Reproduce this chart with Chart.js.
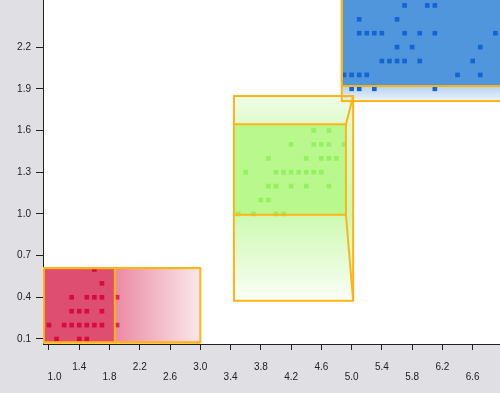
<!DOCTYPE html>
<html><head><meta charset="utf-8">
<script src="https://cdn.jsdelivr.net/npm/chart.js@4/dist/chart.umd.min.js"></script>
<style>html,body{margin:0;padding:0;background:#e0dfe4;}canvas{display:block}</style>
</head><body>
<canvas id="c" width="500" height="393" style="width:500px;height:393px"></canvas>
<script>
// ---- tick labels ----
const xTickValues = [1.0, 1.4, 1.8, 2.2, 2.6, 3.0, 3.4, 3.8, 4.2, 4.6, 5.0, 5.4, 5.8, 6.2, 6.6];
const yTickValues = [0.1, 0.4, 0.7, 1.0, 1.3, 1.6, 1.9, 2.2];

// ---- series values (petal length, petal width) ----
const setosaLength = [1.6, 1.7, 1.3, 1.5, 1.6, 1.7, 1.9, 1.3, 1.4, 1.5, 1.7, 1.0, 1.2, 1.3, 1.4, 1.5, 1.6, 1.7, 1.9, 1.1, 1.4, 1.5];
const setosaWidth  = [0.6, 0.5, 0.4, 0.4, 0.4, 0.4, 0.4, 0.3, 0.3, 0.3, 0.3, 0.2, 0.2, 0.2, 0.2, 0.2, 0.2, 0.2, 0.2, 0.1, 0.1, 0.1];

const versicolorLength = [4.5, 4.7, 4.2, 4.5, 4.6, 4.7, 4.9, 3.9, 4.4, 4.6, 4.7, 4.8, 3.6, 4.0, 4.1, 4.2, 4.3, 4.4, 4.5, 4.6, 3.9, 4.0, 4.2, 4.4, 4.7, 3.8, 3.9, 3.5, 3.7, 4.0, 4.1];
const versicolorWidth  = [1.6, 1.6, 1.5, 1.5, 1.5, 1.5, 1.5, 1.4, 1.4, 1.4, 1.4, 1.4, 1.3, 1.3, 1.3, 1.3, 1.3, 1.3, 1.3, 1.3, 1.2, 1.2, 1.2, 1.2, 1.2, 1.1, 1.1, 1.0, 1.0, 1.0, 1.0];

const virginicaLength = [5.7, 6.0, 6.1, 5.1, 5.6, 5.1, 5.2, 5.3, 5.4, 5.7, 5.9, 6.1, 6.9, 5.6, 5.8, 6.7, 5.4, 5.5, 5.6, 5.7, 5.9, 6.6, 4.9, 5.0, 5.1, 5.2, 6.4, 6.7, 5.0, 5.1, 5.3, 6.1];
const virginicaWidth  = [2.5, 2.5, 2.5, 2.4, 2.4, 2.3, 2.3, 2.3, 2.3, 2.3, 2.3, 2.3, 2.3, 2.2, 2.2, 2.2, 2.1, 2.1, 2.1, 2.1, 2.1, 2.1, 2.0, 2.0, 2.0, 2.0, 2.0, 2.0, 1.9, 1.9, 1.9, 1.9];

// ---- box extents (data units): front face and back face ----
const boxFrontX0 = [0.93, 3.445, 4.87];
const boxFrontX1 = [1.87, 4.925, 7.3];
const boxFrontY0 = [0.075, 0.994, 1.92];
const boxFrontY1 = [0.61, 1.645, 2.8];
const boxBackX0  = [0.93, 3.445, 4.87];
const boxBackX1  = [3.0, 5.02, 7.3];
const boxBackY0  = [0.075, 0.375, 1.812];
const boxBackY1  = [0.61, 1.848, 2.8];

// ---- styles ----
const boxStyles = [
  { front: 'rgb(221,78,112)', base: '220,60,100', dir: 'x', alphas: [0.6, 0.6, 0.6, 0.12], overlay: true },
  { front: 'rgb(185,248,140)', base: '165,244,115', dir: 'y', alphas: [0.18, 0.35, 0.55, 0.06], overlay: false },
  { front: 'rgb(80,150,220)', base: '80,150,220', dir: 'y', alphas: [0.4, 0.4, 0.43, 0.1], overlay: false }
];
const outlineColor = 'rgb(255,180,20)';
const fontFamily = '"Liberation Sans", Arial, sans-serif';

function geom(chart, i) {
  const xs = chart.scales.x, ys = chart.scales.y;
  return {
    fx0: xs.getPixelForValue(boxFrontX0[i]), fx1: xs.getPixelForValue(boxFrontX1[i]),
    fyT: ys.getPixelForValue(boxFrontY1[i]), fyB: ys.getPixelForValue(boxFrontY0[i]),
    bx0: xs.getPixelForValue(boxBackX0[i]), bx1: xs.getPixelForValue(boxBackX1[i]),
    byT: ys.getPixelForValue(boxBackY1[i]), byB: ys.getPixelForValue(boxBackY0[i])
  };
}
function clipArea(chart) {
  const a = chart.chartArea, ctx = chart.ctx;
  ctx.beginPath(); ctx.rect(a.left, a.top, a.right - a.left, a.bottom - a.top); ctx.clip();
}
function drawExtension(chart, i) {
  const ctx = chart.ctx, g = geom(chart, i), st = boxStyles[i];
  let grad, p0, p1, q0, q1;
  if (st.dir === 'x') { grad = ctx.createLinearGradient(g.bx0, 0, g.bx1, 0); p0 = g.bx0; p1 = g.bx1; q0 = g.fx0; q1 = g.fx1; }
  else { grad = ctx.createLinearGradient(0, g.byT, 0, g.byB); p0 = g.byT; p1 = g.byB; q0 = g.fyT; q1 = g.fyB; }
  const fr = v => Math.min(1, Math.max(0, (v - p0) / (p1 - p0)));
  const c = a => 'rgba(' + st.base + ',' + a + ')';
  grad.addColorStop(0, c(st.alphas[0]));
  grad.addColorStop(fr(q0), c(st.alphas[1]));
  grad.addColorStop(fr(q1), c(st.alphas[2]));
  grad.addColorStop(1, c(st.alphas[3]));
  ctx.beginPath();
  ctx.rect(g.bx0, g.byT, g.bx1 - g.bx0, g.byB - g.byT);
  ctx.rect(g.fx0, g.fyT, g.fx1 - g.fx0, g.fyB - g.fyT);
  ctx.fillStyle = grad;
  ctx.fill('evenodd');
}
function drawFront(chart, i) {
  const ctx = chart.ctx, g = geom(chart, i);
  ctx.fillStyle = boxStyles[i].front;
  ctx.fillRect(g.fx0, g.fyT, g.fx1 - g.fx0, g.fyB - g.fyT);
}
function drawOutline(chart, i) {
  const ctx = chart.ctx, g = geom(chart, i);
  ctx.strokeStyle = outlineColor; ctx.lineWidth = 2;
  ctx.strokeRect(g.bx0, g.byT, g.bx1 - g.bx0, g.byB - g.byT);
  ctx.strokeRect(g.fx0, g.fyT, g.fx1 - g.fx0, g.fyB - g.fyT);
  ctx.beginPath();
  ctx.moveTo(g.fx1, g.fyT); ctx.lineTo(g.bx1, g.byT);
  ctx.moveTo(g.fx1, g.fyB); ctx.lineTo(g.bx1, g.byB);
  ctx.stroke();
}

const boxPlugin = {
  id: 'boxes',
  beforeDraw(chart) {
    const ctx = chart.ctx, a = chart.chartArea;
    ctx.save();
    ctx.fillStyle = '#e0dfe4'; ctx.fillRect(0, 0, chart.width, chart.height);
    ctx.fillStyle = '#ffffff'; ctx.fillRect(a.left, a.top, a.right - a.left, a.bottom - a.top);
    ctx.restore();
  },
  beforeDatasetsDraw(chart) {
    const ctx = chart.ctx;
    ctx.save(); clipArea(chart);
    for (let i = boxStyles.length - 1; i >= 0; i--) {
      if (!boxStyles[i].overlay) drawExtension(chart, i);
      drawFront(chart, i);
    }
    ctx.restore();
  },
  afterDatasetsDraw(chart) {
    const ctx = chart.ctx;
    ctx.save(); clipArea(chart);
    for (let i = 0; i < boxStyles.length; i++) if (boxStyles[i].overlay) drawExtension(chart, i);
    for (let i = boxStyles.length - 1; i >= 0; i--) drawOutline(chart, i);
    ctx.restore();
  }
};

const toPoints = (xs, ys) => xs.map((v, k) => ({ x: v, y: ys[k] }));

new Chart(document.getElementById('c'), {
  type: 'scatter',
  data: {
    datasets: [
      { label: 'setosa', data: toPoints(setosaLength, setosaWidth), backgroundColor: 'rgb(214,12,60)' },
      { label: 'versicolor', data: toPoints(versicolorLength, versicolorWidth), backgroundColor: 'rgb(150,240,100)' },
      { label: 'virginica', data: toPoints(virginicaLength, virginicaWidth), backgroundColor: 'rgb(20,100,210)' }
    ]
  },
  options: {
    responsive: false,
    devicePixelRatio: 1,
    animation: false,
    layout: { padding: 0, autoPadding: false },
    elements: { point: { pointStyle: 'rect', radius: 3.3, borderWidth: 0, hoverRadius: 3.3 } },
    plugins: { legend: { display: false }, tooltip: { enabled: false } },
    scales: {
      x: {
        type: 'linear', min: 0.921, max: 6.961,
        afterBuildTicks: s => { s.ticks = xTickValues.map(v => ({ value: v })); },
        afterFit: s => { s.height = 49; s.paddingLeft = 0; s.paddingRight = 0; },
        ticks: {
          autoSkip: false, maxRotation: 0, minRotation: 0, padding: 12, color: '#222',
          font: { family: fontFamily, size: 10, lineHeight: 1 },
          callback: (v, i) => {
            const t = (i === 0 ? '\u00a0\u00a0\u00a0\u00a0' : '') + Number(v).toFixed(1);
            return i % 2 === 0 ? ['', t] : [t];
          }
        },
        grid: { drawOnChartArea: false, drawTicks: true, tickLength: 6, color: '#222', tickWidth: 1 },
        border: { display: true, color: '#222', width: 1 }
      },
      y: {
        type: 'linear', min: 0.064, max: 2.539,
        afterBuildTicks: s => { s.ticks = yTickValues.map(v => ({ value: v })); },
        afterFit: s => { s.width = 43; s.paddingTop = 0; s.paddingBottom = 0; },
        ticks: {
          padding: 5, color: '#222',
          font: { family: fontFamily, size: 10 },
          callback: v => Number(v).toFixed(1)
        },
        grid: { drawOnChartArea: false, drawTicks: true, tickLength: 7, color: '#222', tickWidth: 1 },
        border: { display: true, color: '#222', width: 1 }
      }
    }
  },
  plugins: [boxPlugin]
});
</script>
</body></html>
